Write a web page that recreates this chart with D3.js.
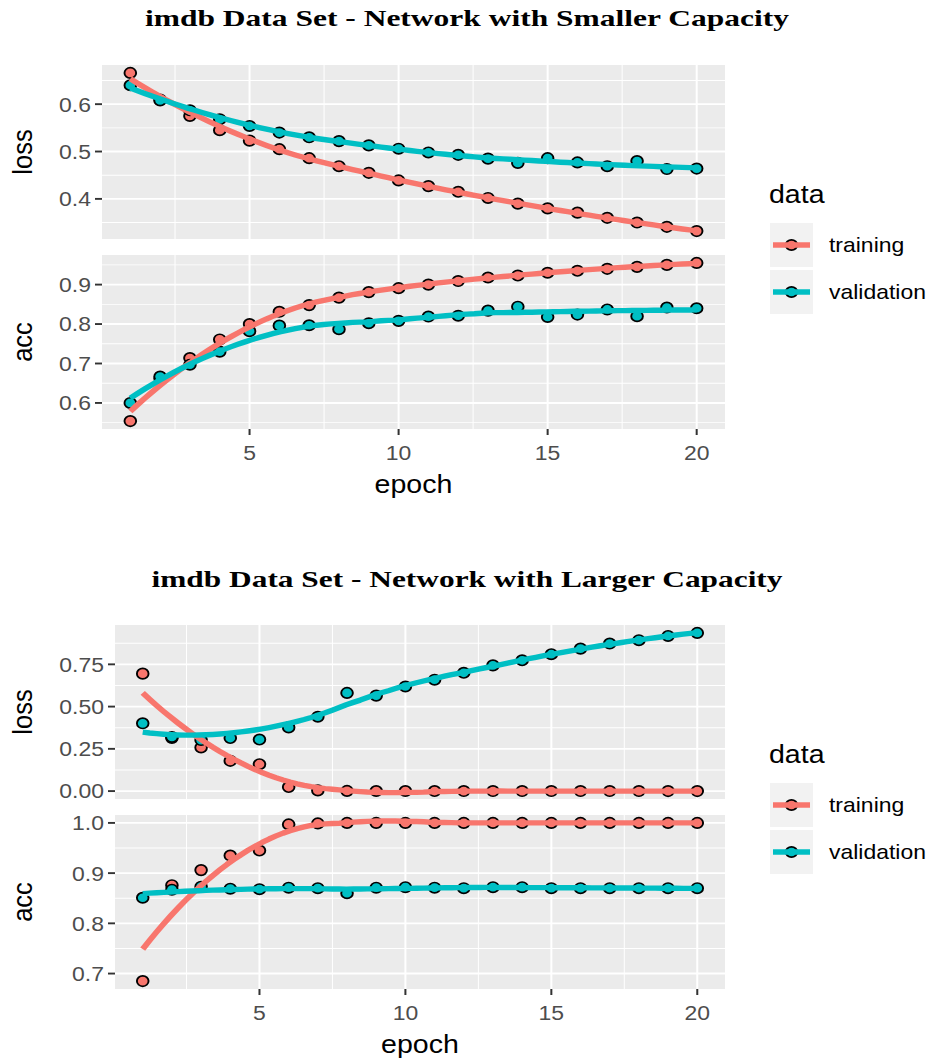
<!DOCTYPE html>
<html>
<head>
<meta charset="utf-8">
<script src="https://cdn.jsdelivr.net/npm/d3@7"></script>
<style>
  html, body { margin: 0; padding: 0; background: #ffffff; }
  svg { display: block; }
</style>
</head>
<body>
<svg id="chart" width="936" height="1064"></svg>
<script>
// ---------------- DATA ----------------
const epochs = [1,2,3,4,5,6,7,8,9,10,11,12,13,14,15,16,17,18,19,20];
const seriesNames = ["training", "validation"];
const seriesColors = ["#F8766D", "#00BFC4"];

const smallTrainLoss = [0.666,0.610,0.575,0.545,0.523,0.505,0.486,0.469,0.455,0.439,0.427,0.415,0.402,0.390,0.380,0.371,0.360,0.350,0.341,0.332];
const smallValLoss   = [0.640,0.608,0.587,0.568,0.554,0.540,0.530,0.522,0.513,0.506,0.498,0.493,0.485,0.476,0.486,0.477,0.469,0.480,0.463,0.464];
const smallTrainAcc  = [0.554,0.662,0.714,0.761,0.800,0.831,0.848,0.867,0.881,0.891,0.900,0.909,0.918,0.923,0.930,0.935,0.940,0.945,0.950,0.955];
const smallValAcc    = [0.600,0.667,0.697,0.730,0.782,0.796,0.797,0.787,0.802,0.808,0.819,0.821,0.834,0.844,0.818,0.824,0.837,0.820,0.842,0.840];

const largeTrainLoss = [0.695,0.315,0.258,0.179,0.159,0.024,0.004,0.001,0.0006,0.0004,0.0003,0.0002,0.0002,0.0001,0.0001,0.0001,0.0001,0.0001,0.0000,0.0000];
const largeValLoss   = [0.401,0.320,0.302,0.314,0.305,0.377,0.440,0.581,0.565,0.619,0.659,0.700,0.744,0.774,0.810,0.843,0.873,0.893,0.918,0.936];
const largeTrainAcc  = [0.685,0.876,0.906,0.935,0.945,0.997,0.999,1.000,1.000,1.000,1.000,1.000,1.000,1.000,1.000,1.000,1.000,1.000,1.000,1.000];
const largeValAcc    = [0.851,0.867,0.873,0.869,0.868,0.871,0.870,0.860,0.871,0.872,0.871,0.870,0.872,0.872,0.870,0.870,0.870,0.870,0.870,0.870];

const xTicks = [5, 10, 15, 20];
const smallLossTicks = [0.4, 0.5, 0.6];
const smallLossLabels = ["0.4", "0.5", "0.6"];
const smallAccTicks = [0.6, 0.7, 0.8, 0.9];
const smallAccLabels = ["0.6", "0.7", "0.8", "0.9"];
const largeLossTicks = [0.00, 0.25, 0.50, 0.75];
const largeLossLabels = ["0.00", "0.25", "0.50", "0.75"];
const largeAccTicks = [0.7, 0.8, 0.9, 1.0];
const largeAccLabels = ["0.7", "0.8", "0.9", "1.0"];

const titles = ["imdb Data Set - Network with Smaller Capacity", "imdb Data Set - Network with Larger Capacity"];

// ---------------- LOESS (R default: span .75, degree 2) ----------------
function loess(xs, ys, xout, span) {
  const n = xs.length;
  const q = Math.floor(n * span);
  return xout.map(x0 => {
    const d = xs.map(x => Math.abs(x - x0));
    const h = d.slice().sort((a, b) => a - b)[q - 1] || 1e-9;
    let S = [[0,0,0],[0,0,0],[0,0,0]], B = [0,0,0];
    for (let i = 0; i < n; i++) {
      const u = d[i] / h;
      if (u >= 1) continue;
      const w = Math.pow(1 - u*u*u, 3);
      const t = xs[i] - x0;
      const v = [1, t, t*t];
      for (let a = 0; a < 3; a++) {
        B[a] += w * v[a] * ys[i];
        for (let b = 0; b < 3; b++) S[a][b] += w * v[a] * v[b];
      }
    }
    const M = S.map((r, i) => r.concat([B[i]]));
    for (let c = 0; c < 3; c++) {
      let p = c;
      for (let r = c + 1; r < 3; r++) if (Math.abs(M[r][c]) > Math.abs(M[p][c])) p = r;
      [M[c], M[p]] = [M[p], M[c]];
      for (let r = 0; r < 3; r++) {
        if (r === c) continue;
        const f = M[r][c] / M[c][c];
        for (let k = c; k < 4; k++) M[r][k] -= f * M[c][k];
      }
    }
    return M[0][3] / M[0][0];
  });
}

// ---------------- DRAW ----------------
const K = 1.12; // horizontal stretch of the reference rendering
const X = px => px / K;
const svg = d3.select("#chart");
const root = svg.append("g").attr("transform", `scale(${K},1)`);

const TICK_FONT = 20.5, TITLE_FONT = 25.5;
const PT_R = 5.2;
const xExt = d3.extent(epochs);
const xPad = (xExt[1] - xExt[0]) * 0.05;
const xGrid = d3.range(80).map(i => xExt[0] + (xExt[1] - xExt[0]) * i / 79);

function panel(cfg) {
  const g = root.append("g");
  const x = d3.scaleLinear().domain([xExt[0] - xPad, xExt[1] + xPad]).range([X(cfg.x0), X(cfg.x1)]);
  const all = cfg.data[0].concat(cfg.data[1]);
  const yExt = d3.extent(all);
  const yPad = (yExt[1] - yExt[0]) * 0.05;
  const y = d3.scaleLinear().domain([yExt[0] - yPad, yExt[1] + yPad]).range([cfg.y1, cfg.y0]);

  g.append("rect").attr("x", X(cfg.x0)).attr("y", cfg.y0)
    .attr("width", X(cfg.x1) - X(cfg.x0)).attr("height", cfg.y1 - cfg.y0).attr("fill", "#EBEBEB");

  const [yd0, yd1] = y.domain();
  const ystep = cfg.yTicks[1] - cfg.yTicks[0];
  const yMinor = d3.range(-10, 20).map(k => cfg.yTicks[0] - ystep / 2 + k * ystep)
    .filter(v => v > yd0 && v < yd1 && !cfg.yTicks.some(t => Math.abs(t - v) < 1e-9));
  const xstep = xTicks[1] - xTicks[0];
  const xMinor = d3.range(-2, 6).map(k => xTicks[0] - xstep / 2 + k * xstep)
    .filter(v => v > x.domain()[0] && v < x.domain()[1]);

  g.selectAll(".ymin").data(yMinor).enter().append("line")
    .attr("x1", X(cfg.x0)).attr("x2", X(cfg.x1)).attr("y1", d => y(d)).attr("y2", d => y(d))
    .attr("stroke", "#FFFFFF").attr("stroke-width", 0.9);
  g.selectAll(".xmin").data(xMinor).enter().append("line")
    .attr("x1", d => x(d)).attr("x2", d => x(d)).attr("y1", cfg.y0).attr("y2", cfg.y1)
    .attr("stroke", "#FFFFFF").attr("stroke-width", 0.9);
  g.selectAll(".ymaj").data(cfg.yTicks).enter().append("line")
    .attr("x1", X(cfg.x0)).attr("x2", X(cfg.x1)).attr("y1", d => y(d)).attr("y2", d => y(d))
    .attr("stroke", "#FFFFFF").attr("stroke-width", 1.9);
  g.selectAll(".xmaj").data(xTicks).enter().append("line")
    .attr("x1", d => x(d)).attr("x2", d => x(d)).attr("y1", cfg.y0).attr("y2", cfg.y1)
    .attr("stroke", "#FFFFFF").attr("stroke-width", 1.8);

  g.selectAll(".ytk").data(cfg.yTicks).enter().append("line")
    .attr("x1", X(cfg.x0 - 7)).attr("x2", X(cfg.x0)).attr("y1", d => y(d)).attr("y2", d => y(d))
    .attr("stroke", "#333333").attr("stroke-width", 1.9);
  g.selectAll(".ylb").data(cfg.yTicks).enter().append("text")
    .attr("x", X(cfg.x0 - 11)).attr("y", d => y(d)).attr("dy", "0.36em")
    .attr("text-anchor", "end").attr("font-family", "Liberation Sans, Arial, sans-serif")
    .attr("font-size", TICK_FONT).attr("fill", "#4D4D4D")
    .text((d, i) => cfg.yLabels[i]);

  g.append("text")
    .attr("transform", `translate(${X(32)},${(cfg.y0 + cfg.y1) / 2}) rotate(-90)`)
    .attr("text-anchor", "middle").attr("font-family", "Liberation Sans, Arial, sans-serif")
    .attr("font-size", TITLE_FONT).attr("fill", "#000000").text(cfg.label);

  if (cfg.showX) {
    g.selectAll(".xtk").data(xTicks).enter().append("line")
      .attr("x1", d => x(d)).attr("x2", d => x(d)).attr("y1", cfg.y1).attr("y2", cfg.y1 + 6)
      .attr("stroke", "#333333").attr("stroke-width", 1.8);
    g.selectAll(".xlb").data(xTicks).enter().append("text")
      .attr("x", d => x(d)).attr("y", cfg.y1 + 31)
      .attr("text-anchor", "middle").attr("font-family", "Liberation Sans, Arial, sans-serif")
      .attr("font-size", TICK_FONT).attr("fill", "#4D4D4D").text(d => d);
    g.append("text")
      .attr("x", X((cfg.x0 + cfg.x1) / 2)).attr("y", cfg.y1 + 64.5)
      .attr("text-anchor", "middle").attr("font-family", "Liberation Sans, Arial, sans-serif")
      .attr("font-size", TITLE_FONT).attr("fill", "#000000").text("epoch");
  }

  cfg.data.forEach((vals, si) => {
    g.selectAll(null).data(vals).enter().append("circle")
      .attr("cx", (d, i) => x(epochs[i])).attr("cy", d => y(d)).attr("r", PT_R)
      .attr("fill", seriesColors[si]).attr("stroke", "#000000").attr("stroke-width", 1.7);
  });
  cfg.data.forEach((vals, si) => {
    const fit = loess(epochs, vals, xGrid, 0.75);
    const line = d3.line().x((d, i) => x(xGrid[i])).y(d => y(d)).curve(d3.curveLinear);
    g.append("path").datum(fit).attr("d", line).attr("fill", "none")
      .attr("stroke", seriesColors[si]).attr("stroke-width", 5.4).attr("stroke-linejoin", "round");
  });
}

function legend(yOff) {
  const g = root.append("g");
  g.append("text").attr("x", X(769)).attr("y", 203 + yOff)
    .attr("font-family", "Liberation Sans, Arial, sans-serif").attr("font-size", TITLE_FONT)
    .attr("fill", "#000000").text("data");
  seriesNames.forEach((name, i) => {
    const top = 223 + yOff + i * 47;
    g.append("rect").attr("x", X(770)).attr("y", top).attr("width", X(813) - X(770)).attr("height", 44)
      .attr("fill", "#F2F2F2");
    g.append("circle").attr("cx", X(791.5)).attr("cy", top + 22).attr("r", PT_R)
      .attr("fill", seriesColors[i]).attr("stroke", "#000000").attr("stroke-width", 1.7);
    g.append("line").attr("x1", X(773)).attr("x2", X(810)).attr("y1", top + 22).attr("y2", top + 22)
      .attr("stroke", seriesColors[i]).attr("stroke-width", 5.4);
    g.append("text").attr("x", X(829)).attr("y", top + 22).attr("dy", "0.36em")
      .attr("font-family", "Liberation Sans, Arial, sans-serif").attr("font-size", TICK_FONT)
      .attr("fill", "#000000").text(name);
  });
}

function title(txt, baseline, width) {
  root.append("text").attr("x", X(467)).attr("y", baseline)
    .attr("text-anchor", "middle").attr("font-family", "Liberation Serif, Times New Roman, serif")
    .attr("font-weight", "bold").attr("font-size", 22.5)
    .attr("textLength", X(width)).attr("lengthAdjust", "spacingAndGlyphs")
    .text(txt);
}

title(titles[0], 26, 644);
panel({x0: 102, x1: 725, y0: 65, y1: 239, data: [smallTrainLoss, smallValLoss],
       yTicks: smallLossTicks, yLabels: smallLossLabels, label: "loss", showX: false});
panel({x0: 102, x1: 725, y0: 255, y1: 429, data: [smallTrainAcc, smallValAcc],
       yTicks: smallAccTicks, yLabels: smallAccLabels, label: "acc", showX: true});
legend(0);

title(titles[1], 587, 631);
panel({x0: 115, x1: 725, y0: 625, y1: 799, data: [largeTrainLoss, largeValLoss],
       yTicks: largeLossTicks, yLabels: largeLossLabels, label: "loss", showX: false});
panel({x0: 115, x1: 725, y0: 815, y1: 989, data: [largeTrainAcc, largeValAcc],
       yTicks: largeAccTicks, yLabels: largeAccLabels, label: "acc", showX: true});
legend(560);
</script>
</body>
</html>
